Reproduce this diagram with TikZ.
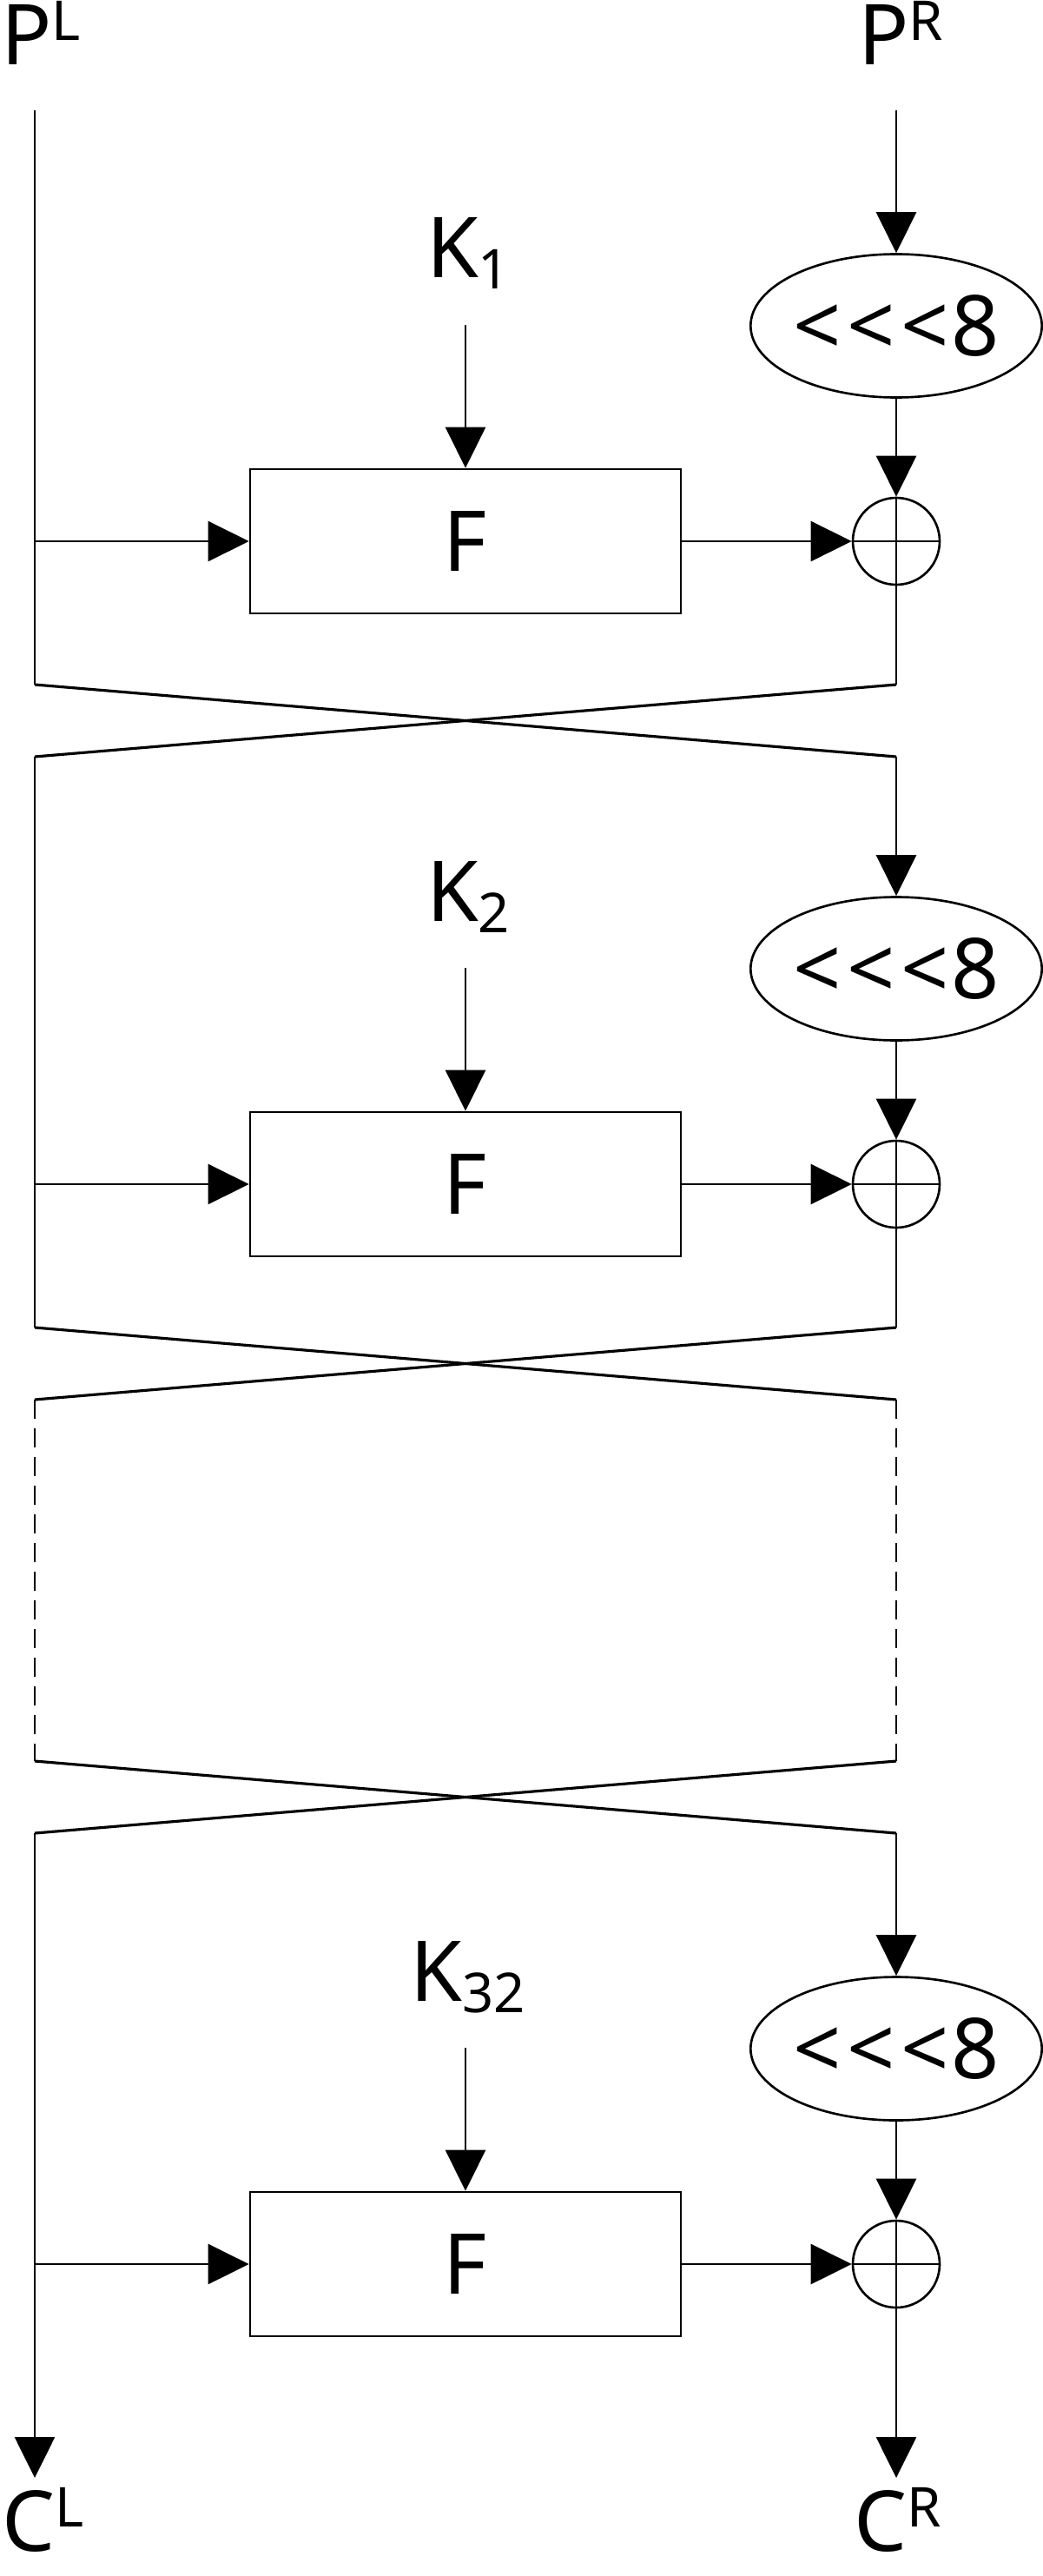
\documentclass[tikz,border=0pt]{standalone}
\usepackage{fontspec}
\setmainfont{Noto Sans}
\usetikzlibrary{shapes.geometric,arrows.meta}
\newcommand{\lowidx}[1]{\raisebox{-0.13cm}{\fontsize{18}{20}\selectfont #1}}
\newcommand{\highidx}[1]{\raisebox{0.28cm}{\fontsize{18}{20}\selectfont #1}}
\newcommand{\rotlbl}{<\kern0.07cm<\kern0.07cm<\kern0.02cm8}

\begin{document}
\begin{tikzpicture}[>={Triangle[length=4.7mm,width=4.6mm]}, line width=0.75pt]
	\tikzstyle{lbl}=[inner sep=0pt, font=\fontsize{27.5}{33}\selectfont]
	\tikzstyle{fbox}=[lbl, draw=black, minimum width=4.96cm, minimum height=1.66cm]
	\tikzstyle{rot}=[lbl, ellipse, draw=black, minimum width=3.29cm, minimum height=1.65cm]
	\tikzstyle{xor}=[circle, draw=black, minimum size=1cm, inner sep=0pt]
	\tikzstyle{twist}=[line width=0.9pt]
	\tikzstyle{skip}=[dash pattern=on 0.22cm off 0.11cm]

	\useasboundingbox (0,0) rectangle (12,-29.65);

	% Input
	\node at (0.47,-0.75) [lbl, anchor=base] (pl) {P\highidx{L}};
	\node at (10.37,-0.75) [lbl, anchor=base] (pr) {P\highidx{R}};
	\coordinate (lin) at (0.40,-1.27);
	\coordinate (rin) at (10.32,-1.27);

	% Round 1
	\node at (5.39,-3.20) [lbl, anchor=base] (k1) {K\lowidx{1}};
	\coordinate (k1in) at (5.36,-3.74);
	\node at (10.32,-3.75) [rot] (rot1) {\rotlbl};
	\node at (5.36,-6.23) [fbox] (f1) {F};
	\node at (10.32,-6.23) [xor] (x1) {};
	\coordinate (fl1) at (0.40,-6.23);
	\coordinate (ul1) at (0.40,-7.88);
	\coordinate (ur1) at (10.32,-7.88);
	\coordinate (dl1) at (0.40,-8.71);
	\coordinate (dr1) at (10.32,-8.71);

	\draw [->] (rin) to (rot1);
	\draw [->] (k1in) to (f1);
	\draw [->] (rot1) to (x1);
	\draw [->] (fl1) to (f1);
	\draw [->] (f1) to (x1);
	\draw (x1.west) to (x1.east);
	\draw (lin) to (ul1);
	\draw (x1.north) to (ur1);
	\draw [twist] (ul1) to (dr1);
	\draw [twist] (ur1) to (dl1);

	% Round 2
	\node at (5.39,-10.60) [lbl, anchor=base] (k2) {K\lowidx{2}};
	\coordinate (k2in) at (5.36,-11.14);
	\node at (10.32,-11.15) [rot] (rot2) {\rotlbl};
	\node at (5.36,-13.63) [fbox] (f2) {F};
	\node at (10.32,-13.63) [xor] (x2) {};
	\coordinate (fl2) at (0.40,-13.63);
	\coordinate (ul2) at (0.40,-15.28);
	\coordinate (ur2) at (10.32,-15.28);
	\coordinate (dl2) at (0.40,-16.11);
	\coordinate (dr2) at (10.32,-16.11);

	\draw [->] (dr1) to (rot2);
	\draw [->] (k2in) to (f2);
	\draw [->] (rot2) to (x2);
	\draw [->] (fl2) to (f2);
	\draw [->] (f2) to (x2);
	\draw (x2.west) to (x2.east);
	\draw (dl1) to (ul2);
	\draw (x2.north) to (ur2);
	\draw [twist] (ul2) to (dr2);
	\draw [twist] (ur2) to (dl2);

	% Rounds 3 to 31
	\coordinate (ul3) at (0.40,-20.27);
	\coordinate (ur3) at (10.32,-20.27);
	\coordinate (dl3) at (0.40,-21.10);
	\coordinate (dr3) at (10.32,-21.10);
	\draw [skip] (dl2) to (ul3);
	\draw [skip] (dr2) to (ur3);
	\draw [twist] (ul3) to (dr3);
	\draw [twist] (ur3) to (dl3);

	% Round 32
	\node at (5.39,-23.03) [lbl, anchor=base] (k32) {K\lowidx{32}};
	\coordinate (k32in) at (5.36,-23.57);
	\node at (10.32,-23.58) [rot] (rot32) {\rotlbl};
	\node at (5.36,-26.06) [fbox] (f32) {F};
	\node at (10.32,-26.06) [xor] (x32) {};
	\coordinate (fl32) at (0.40,-26.06);
	\coordinate (lout) at (0.40,-28.52);
	\coordinate (rout) at (10.32,-28.52);

	\draw [->] (dr3) to (rot32);
	\draw [->] (k32in) to (f32);
	\draw [->] (rot32) to (x32);
	\draw [->] (fl32) to (f32);
	\draw [->] (f32) to (x32);
	\draw (x32.west) to (x32.east);
	\draw [->] (dl3) to (lout);
	\draw [->] (x32.north) to (rout);

	% Output
	\node at (0.50,-29.36) [lbl, anchor=base] (cl) {C\highidx{L}};
	\node at (10.34,-29.36) [lbl, anchor=base] (cr) {C\highidx{R}};
\end{tikzpicture}
\end{document}
